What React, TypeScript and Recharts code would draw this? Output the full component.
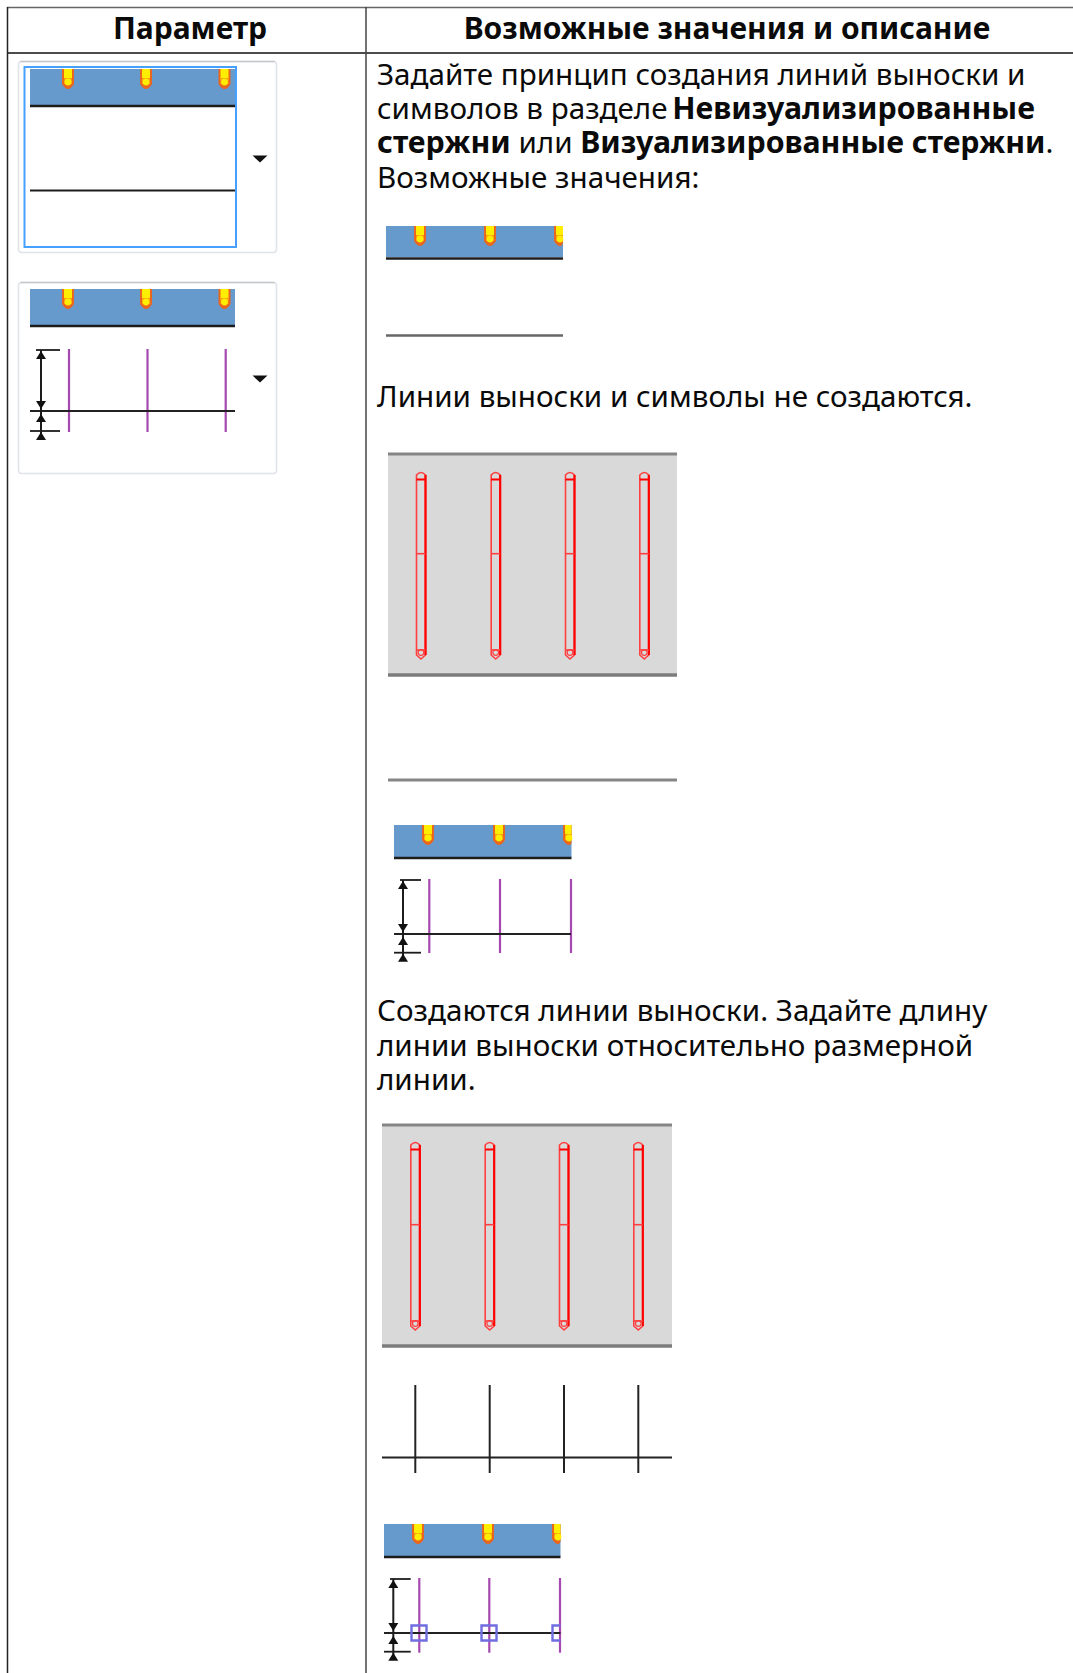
import { ComposedChart, ReferenceArea, ReferenceLine, Scatter, XAxis, YAxis } from "recharts";

const WIDTH = 1073;
const HEIGHT = 1673;
const FONT = "'Noto Sans', sans-serif";
const SOFT = { filter: "blur(0.45px)" };

// text rows, each one a list of [text, bold, nudge] runs
const headerRows = [
  { x: 190, y: 39, runs: [["Параметр", true]] },
  { x: 727, y: 39, runs: [["Возможные значения и описание", true]] },
];
const bodyRows = [
  { x: 377, y: 85, runs: [["Задайте принцип создания линий выноски и", false]] },
  { x: 377, y: 119, runs: [["символов в разделе ", false], ["Невизуализированные", true, -3]] },
  { x: 377, y: 153, runs: [["стержни", true], [" или ", false], ["Визуализированные стержни", true], [".", false]] },
  { x: 377, y: 188, runs: [["Возможные значения:", false]] },
  { x: 377, y: 407, runs: [["Линии выноски и символы не создаются.", false]] },
  { x: 377, y: 1021, runs: [["Создаются линии выноски. Задайте длину", false]] },
  { x: 377, y: 1056, runs: [["линии выноски относительно размерной", false]] },
  { x: 377, y: 1090, runs: [["линии.", false]] },
];

// table rules
const tableRules = [
  [7, 7.5, 1073, 7.5, "#666666", 1.5],
  [7, 53, 1073, 53, "#111111", 1.5],
  [7.5, 7, 7.5, 1673, "#222222", 1.5],
  [366, 7, 366, 1673, "#444444", 1.5],
];

// small tool-panel frames
const panels = [
  { x1: 18.5, x2: 276.5, y1: 61.5, y2: 252.5 },
  { x1: 18.5, x2: 276.5, y1: 282.5, y2: 473.5 },
];
const dropArrows = [
  { x: 260, y: 159 },
  { x: 260, y: 379 },
];

// blue beam strips
const beams = [
  { x1: 30, x2: 235, y1: 69, y2: 105, under: 106 },
  { x1: 30, x2: 235, y1: 289, y2: 325, under: 326 },
  { x1: 386, x2: 563, y1: 226, y2: 257, under: 258.5 },
  { x1: 394, x2: 571.5, y1: 825, y2: 857, under: 858 },
  { x1: 384, x2: 560.5, y1: 1524, y2: 1556, under: 1557 },
];
const pegGroups = [
  { top: 69, xs: [68, 146, 224.5], right: 235 },
  { top: 289, xs: [68, 146, 224.5], right: 235 },
  { top: 226, xs: [420, 490, 560], right: 563 },
  { top: 825, xs: [428, 499, 569], right: 571.5 },
  { top: 1524, xs: [418, 488, 558], right: 560.5 },
];

// grey slabs with rebar outlines
const slabs = [
  { x1: 388, x2: 677, y1: 454, y2: 675, barTop: 472, barMid: 553.7, barBottom: 659, xs: [421, 495.7, 570, 644.3] },
  { x1: 382, x2: 672, y1: 1125, y2: 1346, barTop: 1142, barMid: 1224.7, barBottom: 1330, xs: [415.3, 489.7, 564, 638.3] },
];

// plain thin lines
const darkLines = [
  [30, 190.5, 235, 190.5, "#1c1c1c", 2.2],
  [386, 335.5, 563, 335.5, "#666666", 2.4],
  [388, 780, 677, 780, "#858585", 3],
  [382, 1457.5, 672, 1457.5, "#222222", 2],
  [415.3, 1385, 415.3, 1473, "#222222", 2],
  [489.7, 1385, 489.7, 1473, "#222222", 2],
  [564, 1385, 564, 1473, "#222222", 2],
  [638.3, 1385, 638.3, 1473, "#222222", 2],
];

// dimension symbols with purple extension lines
const dims = [
  { left: 30, right: 235, axis: 41, tickEnd: 60, top: 350, mid: 411, low: 431, purple: [69, 147.5, 225.7], pTop: 349, pLow: 432 },
  { left: 394, right: 571, axis: 403, tickEnd: 421, top: 880, mid: 934, low: 952.7, purple: [429.3, 500, 571], pTop: 879, pLow: 953 },
  { left: 384, right: 560.5, axis: 393.3, tickEnd: 410.7, top: 1579, mid: 1633, low: 1651.7, purple: [419.3, 489.3, 560], pTop: 1578, pLow: 1652.7 },
];
const markerSquares = [
  { x: 419, y: 1633 },
  { x: 489, y: 1633 },
  { x: 560, y: 1633 },
];
const markerRight = 560.5;

const line = (l: (number | string)[], key: string, soft = true) => (
  <ReferenceLine
    key={key}
    segment={[{ x: l[0] as number, y: l[1] as number }, { x: l[2] as number, y: l[3] as number }]}
    stroke={l[4] as string}
    strokeWidth={l[5] as number}
    style={soft ? SOFT : undefined}
  />
);

function TextRow(size: number, boldSize: number, anchor: "start" | "middle") {
  return (p: any) => (
    <text x={p.cx} y={p.cy} fontFamily={FONT} fontSize={size} fill="#0a0a0a" textAnchor={anchor}>
      {p.payload.runs.map((r: any, i: number) => (
        <tspan
          key={i}
          dx={r[2]}
          fontSize={r[1] ? boldSize : size}
          fontWeight={r[1] ? 700 : 400}
          xmlSpace="preserve"
          style={{ whiteSpace: "pre" }}
        >
          {r[0]}
        </tspan>
      ))}
    </text>
  );
}

function pegShape(right: number) {
  return (p: any) => {
    const { cx, cy } = p;
    const x2 = Math.min(cx + 6, right);
    const ix2 = Math.min(cx + 4, right);
    return (
      <g style={SOFT}>
        <path d={`M${cx - 6} ${cy}H${x2}V${cy + 15}Q${cx + 3} ${cy + 20} ${cx} ${cy + 20}Q${cx - 3} ${cy + 20} ${cx - 6} ${cy + 15}Z`} fill="#e8661e" />
        <rect x={cx - 4} y={cy} width={ix2 - cx + 4} height={11} fill="#ffee00" />
        <rect x={cx - 4} y={cy + 9} width={ix2 - cx + 4} height={6} fill="#ff9a10" />
        <circle cx={cx} cy={cy + 13} r={3.4} fill="#ffee00" />
      </g>
    );
  };
}

const Arrow = (p: any) => <path d={`M${p.cx - 7.5} ${p.cy - 3.5}H${p.cx + 7.5}L${p.cx} ${p.cy + 3.5}Z`} fill="#111111" />;
const HeadUp = (p: any) => <path d={`M${p.cx - 5} ${p.cy + 8}H${p.cx + 5}L${p.cx} ${p.cy}Z`} fill="#111111" style={SOFT} />;
const HeadDown = (p: any) => <path d={`M${p.cx - 5} ${p.cy - 8}H${p.cx + 5}L${p.cx} ${p.cy}Z`} fill="#111111" style={SOFT} />;
const Square = (p: any) => {
  const r = Math.min(p.cx + 7.5, markerRight);
  const closed = p.cx + 7.5 <= markerRight;
  return (
    <path
      d={`M${r} ${p.cy - 7.5}H${p.cx - 7.5}V${p.cy + 7.5}H${r}${closed ? "Z" : ""}`}
      fill="none"
      stroke="#6f6de0"
      strokeWidth={2.4}
      style={SOFT}
    />
  );
};

function Rebar(p: any) {
  const { cx, cy, payload } = p;
  const h = payload.h;
  return (
    <g fill="none" stroke="#ff4040" strokeWidth={1.6} style={SOFT}>
      <path d={`M${cx - 4.5} ${cy + 3}Q${cx} ${cy - 2} ${cx + 4.5} ${cy + 3}V${cy + h - 4}L${cx} ${cy + h}L${cx - 4.5} ${cy + h - 4}Z`} />
      <path d={`M${cx + 4.5} ${cy + 3}V${cy + h - 4}`} stroke="#ff0000" strokeWidth={2.2} />
      <path d={`M${cx - 4.5} ${cy + 7.5}H${cx + 4.5}`} stroke="#ff0000" strokeWidth={2} />
      <path d={`M${cx - 4.5} ${cy + payload.m}H${cx + 4.5}`} />
      <path d={`M${cx - 4.5} ${cy + h - 9}H${cx + 4.5}`} />
      <circle cx={cx} cy={cy + h - 6.5} r={2.8} strokeWidth={1.2} />
    </g>
  );
}

const pegData = (g: { top: number; xs: number[] }) => g.xs.map((x) => ({ x, y: g.top }));
const rebarData = (s: (typeof slabs)[number]) =>
  s.xs.map((x) => ({ x, y: s.barTop, h: s.barBottom - s.barTop, m: s.barMid - s.barTop }));
const headsUp = dims.flatMap((d) => [
  { x: d.axis, y: d.top + 1 },
  { x: d.axis, y: d.mid + 3 },
  { x: d.axis, y: d.low + 1 },
]);
const headsDown = dims.map((d) => ({ x: d.axis, y: d.mid - 2 }));

export default function App() {
  return (
    <div style={{ position: "absolute", left: 0, top: 0, width: WIDTH, height: HEIGHT, background: "#fff" }}>
      <ComposedChart width={WIDTH} height={HEIGHT} margin={{ top: 0, right: 0, bottom: 0, left: 0 }}>
        <XAxis type="number" dataKey="x" domain={[0, WIDTH]} hide allowDataOverflow />
        <YAxis type="number" dataKey="y" domain={[0, HEIGHT]} reversed hide allowDataOverflow />

        {panels.map((p, i) => (
          <ReferenceArea key={`panel-${i}`} x1={p.x1} x2={p.x2} y1={p.y1} y2={p.y2} fill="#ffffff" fillOpacity={1} stroke="#e0e3ea" strokeWidth={1.6} radius={3} />
        ))}
        {panels.map((p, i) => line([p.x1 + 2, p.y1, p.x2 - 2, p.y1, "#c4c6cc", 1.4], `pt-${i}`))}
        <ReferenceArea x1={24.5} x2={236} y1={67} y2={247} fill="#ffffff" fillOpacity={1} stroke="#45a0ff" strokeWidth={2} />
        {slabs.map((s, i) => (
          <ReferenceArea key={`slab-${i}`} x1={s.x1} x2={s.x2} y1={s.y1} y2={s.y2} fill="#d9d9d9" fillOpacity={1} stroke="none" />
        ))}
        {slabs.flatMap((s, i) => [
          line([s.x1, s.y1, s.x2, s.y1, "#858585", 3], `st-${i}`),
          line([s.x1, s.y2, s.x2, s.y2, "#7c7c7c", 3.5], `sb-${i}`),
        ])}
        {beams.map((b, i) => (
          <ReferenceArea key={`beam-${i}`} x1={b.x1} x2={b.x2} y1={b.y1} y2={b.y2} fill="#6699cc" fillOpacity={1} stroke="none" />
        ))}
        {beams.map((b, i) => line([b.x1, b.under, b.x2, b.under, "#1c1c1c", 2.6], `under-${i}`))}
        {darkLines.map((l, i) => line(l, `dark-${i}`))}

        {dims.flatMap((d, i) => [
          ...d.purple.map((x, j) => line([x, d.pTop, x, d.pLow, "#a548b0", 2.2], `dp-${i}-${j}`)),
          line([d.left, d.mid, d.right, d.mid, "#222222", 2], `dm-${i}`),
          line([d.left + 6, d.top, d.tickEnd, d.top, "#1c1c1c", 1.8], `dt-${i}`),
          line([d.left, d.low, d.tickEnd, d.low, "#1c1c1c", 1.8], `dl-${i}`),
          line([d.axis, d.top, d.axis, d.low + 8, "#1c1c1c", 2], `da-${i}`),
        ])}

        {pegGroups.map((g, i) => (
          <Scatter key={`pegs-${i}`} data={pegData(g)} shape={pegShape(g.right)} isAnimationActive={false} />
        ))}
        {slabs.map((s, i) => (
          <Scatter key={`bars-${i}`} data={rebarData(s)} shape={Rebar} isAnimationActive={false} />
        ))}
        <Scatter data={dropArrows} shape={Arrow} isAnimationActive={false} />
        <Scatter data={headsUp} shape={HeadUp} isAnimationActive={false} />
        <Scatter data={headsDown} shape={HeadDown} isAnimationActive={false} />
        <Scatter data={markerSquares} shape={Square} isAnimationActive={false} />

        {tableRules.map((l, i) => line(l, `rule-${i}`, false))}
        <Scatter data={headerRows} shape={TextRow(30, 30, "middle")} isAnimationActive={false} />
        <Scatter data={bodyRows} shape={TextRow(29.6, 30.3, "start")} isAnimationActive={false} />
      </ComposedChart>
    </div>
  );
}
